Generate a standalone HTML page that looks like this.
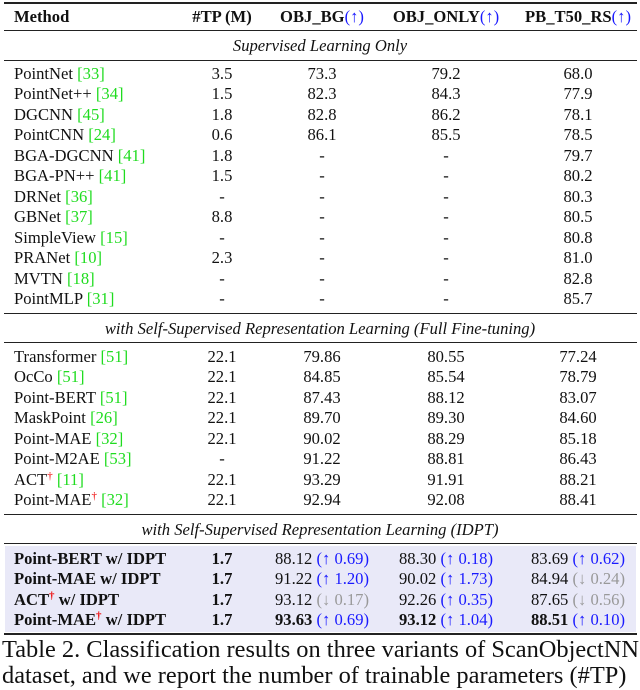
<!DOCTYPE html>
<html><head><meta charset="utf-8">
<style>
html,body{margin:0;padding:0;background:#fff;}
body{width:640px;height:685px;position:relative;overflow:hidden;font-family:"Liberation Serif",serif;font-size:16.6px;color:#111;}
.r{position:absolute;left:0;width:640px;height:20px;line-height:20px;}
.c{position:absolute;top:0;white-space:nowrap;}
.m{left:14px;}
.tp{left:222px;transform:translateX(-50%);}
.bg{left:322px;transform:translateX(-50%);}
.on{left:446px;transform:translateX(-50%);}
.pb{left:578px;transform:translateX(-50%);}
.g{color:#1fdc1f;}
.b{color:#1a1aff;}
.gr{color:#999;}
.dg{color:#e00;font-size:11px;position:relative;top:-6px;line-height:0;}
.rule{position:absolute;left:4px;width:633px;background:#222;}
.sec{position:absolute;left:0;width:640px;text-align:center;font-style:italic;height:20px;line-height:20px;}
.hd{font-weight:bold;}
.shade{position:absolute;left:5px;width:631px;top:546px;height:86px;background:#e9e9f8;}
.cap{position:absolute;left:2px;font-size:24.4px;white-space:nowrap;}
</style></head>
<body>
<div class="rule" style="top:2px;height:2px"></div>
<div class="r hd" style="top:7px">
<span class="c m">Method</span>
<span class="c tp">#TP (M)</span>
<span class="c bg">OBJ_BG<span class="b" style="font-weight:normal">(↑)</span></span>
<span class="c on">OBJ_ONLY<span class="b" style="font-weight:normal">(↑)</span></span>
<span class="c pb">PB_T50_RS<span class="b" style="font-weight:normal">(↑)</span></span>
</div>
<div class="rule" style="top:30px;height:1px"></div>
<div class="sec" style="top:36px">Supervised Learning Only</div>
<div class="rule" style="top:60px;height:1px"></div>
<div class="sec" style="top:319px">with Self-Supervised Representation Learning (Full Fine-tuning)</div>
<div class="rule" style="top:313px;height:1px"></div>
<div class="rule" style="top:342px;height:1px"></div>
<div class="rule" style="top:514px;height:1px"></div>
<div class="sec" style="top:520px">with Self-Supervised Representation Learning (IDPT)</div>
<div class="rule" style="top:543px;height:1px"></div>
<div class="shade"></div>
<div class="rule" style="top:633px;height:2px"></div>
<div id="rows"></div>
<div class="cap" style="top:636px">Table 2. Classification results on three variants of ScanObjectNN</div>
<div class="cap" style="top:662px">dataset, and we report the number of trainable parameters (#TP)</div>
<script>
const methods = ["PointNet <span class='g'>[33]</span>","PointNet++ <span class='g'>[34]</span>","DGCNN <span class='g'>[45]</span>","PointCNN <span class='g'>[24]</span>","BGA-DGCNN <span class='g'>[41]</span>","BGA-PN++ <span class='g'>[41]</span>","DRNet <span class='g'>[36]</span>","GBNet <span class='g'>[37]</span>","SimpleView <span class='g'>[15]</span>","PRANet <span class='g'>[10]</span>","MVTN <span class='g'>[18]</span>","PointMLP <span class='g'>[31]</span>",
"Transformer <span class='g'>[51]</span>","OcCo <span class='g'>[51]</span>","Point-BERT <span class='g'>[51]</span>","MaskPoint <span class='g'>[26]</span>","Point-MAE <span class='g'>[32]</span>","Point-M2AE <span class='g'>[53]</span>","ACT<span class='dg'>†</span> <span class='g'>[11]</span>","Point-MAE<span class='dg'>†</span> <span class='g'>[32]</span>",
"<b>Point-BERT w/ IDPT</b>","<b>Point-MAE w/ IDPT</b>","<b>ACT<span class='dg'>†</span> w/ IDPT</b>","<b>Point-MAE<span class='dg'>†</span> w/ IDPT</b>"];
const tp = ["3.5","1.5","1.8","0.6","1.8","1.5","-","8.8","-","2.3","-","-","22.1","22.1","22.1","22.1","22.1","-","22.1","22.1","<b>1.7</b>","<b>1.7</b>","<b>1.7</b>","<b>1.7</b>"];
const objBg = ["73.3","82.3","82.8","86.1","-","-","-","-","-","-","-","-","79.86","84.85","87.43","89.70","90.02","91.22","93.29","92.94",
"88.12 <span class='b'>(↑ 0.69)</span>","91.22 <span class='b'>(↑ 1.20)</span>","93.12 <span class='gr'>(↓ 0.17)</span>","<b>93.63</b> <span class='b'>(↑ 0.69)</span>"];
const objOnly = ["79.2","84.3","86.2","85.5","-","-","-","-","-","-","-","-","80.55","85.54","88.12","89.30","88.29","88.81","91.91","92.08",
"88.30 <span class='b'>(↑ 0.18)</span>","90.02 <span class='b'>(↑ 1.73)</span>","92.26 <span class='b'>(↑ 0.35)</span>","<b>93.12</b> <span class='b'>(↑ 1.04)</span>"];
const pbRs = ["68.0","77.9","78.1","78.5","79.7","80.2","80.3","80.5","80.8","81.0","82.8","85.7","77.24","78.79","83.07","84.60","85.18","86.43","88.21","88.41",
"83.69 <span class='b'>(↑ 0.62)</span>","84.94 <span class='gr'>(↓ 0.24)</span>","87.65 <span class='gr'>(↓ 0.56)</span>","<b>88.51</b> <span class='b'>(↑ 0.10)</span>"];
const rowTops = [];
for (let i=0;i<12;i++) rowTops.push(64+i*20.45);
for (let i=0;i<8;i++) rowTops.push(347+i*20.45);
for (let i=0;i<4;i++) rowTops.push(549+i*20.45);
const host = document.getElementById('rows');
for (let i=0;i<methods.length;i++){
  const r=document.createElement('div');
  r.className='r';
  r.style.top=rowTops[i]+'px';
  
  
  const cells=[['m',methods[i]],['tp',tp[i]],['bg',objBg[i]],['on',objOnly[i]],['pb',pbRs[i]]];
  for (const [cls,html] of cells){
    const s=document.createElement('span');
    s.className='c '+cls;
    s.innerHTML=html;
    
    
    r.appendChild(s);
  }
  host.appendChild(r);
}
</script>
</body></html>
